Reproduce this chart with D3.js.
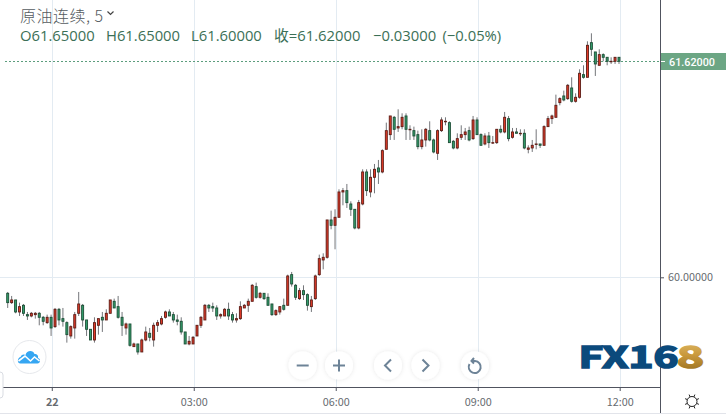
<!DOCTYPE html>
<html><head><meta charset="utf-8">
<script src="https://cdn.jsdelivr.net/npm/d3@7/dist/d3.min.js"></script>
<style>
html,body{margin:0;padding:0;background:#fff;overflow:hidden}
svg{display:block}
text{font-family:"Noto Sans CJK SC","Open Sans",sans-serif}
</style></head><body>
<svg id="c" width="726" height="415"></svg>
<script>
const high=[59.89,59.86,59.83,59.81,59.80,59.74,59.74,59.74,59.74,59.71,59.72,59.72,59.77,59.77,59.77,59.67,59.64,59.74,59.89,59.80,59.68,59.61,59.70,59.69,59.74,59.76,59.83,59.84,59.86,59.74,59.66,59.65,59.51,59.50,59.54,59.63,59.62,59.66,59.68,59.71,59.75,59.76,59.74,59.72,59.70,59.59,59.56,59.56,59.64,59.71,59.80,59.80,59.81,59.79,59.73,59.77,59.81,59.74,59.73,59.82,
59.80,59.84,59.95,59.96,59.89,59.88,59.88,59.80,59.76,59.78,59.84,60.02,60.04,59.95,59.92,59.94,59.88,59.86,60.02,60.17,60.18,60.43,60.50,60.51,60.66,60.67,60.70,60.57,60.51,60.58,
60.81,60.81,60.81,60.85,60.88,60.96,61.16,61.21,61.21,61.26,61.23,61.23,61.14,61.13,61.10,61.11,61.12,61.17,61.04,61.11,61.20,61.20,61.17,61.03,61.08,61.14,61.12,61.13,61.21,61.20,61.08,61.08,61.09,61.06,61.11,61.14,61.24,61.21,61.12,61.12,61.11,61.11,60.99,61.03,61.11,61.00,
61.14,61.21,61.22,61.37,61.35,61.40,61.45,61.50,61.38,61.56,61.59,61.77,61.83,61.69,61.71,61.68,61.65,61.65,61.65,61.65];
const low=[59.77,59.80,59.73,59.71,59.71,59.68,59.70,59.69,59.64,59.64,59.65,59.56,59.62,59.64,59.63,59.51,59.54,59.54,59.71,59.63,59.56,59.53,59.51,59.57,59.59,59.68,59.73,59.77,59.69,59.56,59.57,59.48,59.48,59.42,59.44,59.52,59.52,59.48,59.59,59.64,59.69,59.71,59.66,59.64,59.57,59.50,59.49,59.50,59.56,59.62,59.68,59.74,59.74,59.68,59.69,59.71,59.68,59.66,59.66,59.68,
59.77,59.74,59.82,59.84,59.84,59.83,59.79,59.71,59.71,59.72,59.75,59.79,59.93,59.83,59.83,59.83,59.75,59.74,59.83,60.01,60.06,60.14,60.36,60.21,60.45,60.54,60.52,60.46,60.36,60.36,
60.54,60.61,60.60,60.63,60.70,60.78,60.96,61.03,61.03,61.09,61.11,61.03,61.03,61.03,60.96,60.96,60.98,61.02,60.93,60.88,61.09,61.14,61.01,60.96,60.96,61.03,61.03,61.02,61.03,61.07,60.99,60.99,60.97,61.00,61.00,61.08,61.08,61.02,61.04,61.08,61.06,60.96,60.93,60.94,60.96,60.97,
60.99,61.13,61.15,61.20,61.29,61.32,61.33,61.31,61.31,61.34,61.49,61.50,61.66,61.51,61.59,61.62,61.59,61.60,61.60,61.60];
const open=[59.88,59.81,59.83,59.74,59.79,59.72,59.71,59.72,59.73,59.70,59.66,59.70,59.63,59.76,59.69,59.66,59.56,59.62,59.73,59.79,59.68,59.61,59.53,59.64,59.70,59.68,59.73,59.82,59.78,59.70,59.62,59.65,59.48,59.50,59.44,59.53,59.58,59.53,59.64,59.65,59.70,59.74,59.72,59.68,59.67,59.59,59.50,59.50,59.56,59.64,59.68,59.79,59.78,59.77,59.71,59.71,59.76,59.72,59.68,59.69,
59.77,59.79,59.82,59.93,59.85,59.88,59.85,59.80,59.72,59.74,59.79,59.79,60.02,59.94,59.84,59.90,59.87,59.78,59.84,60.02,60.13,60.15,60.43,60.39,60.45,60.64,60.65,60.55,60.51,60.37,
60.55,60.79,60.64,60.75,60.82,60.79,60.96,61.07,61.20,61.12,61.13,61.21,61.11,61.10,61.07,60.98,61.03,61.10,61.03,60.93,61.10,61.17,61.16,61.02,60.97,61.05,61.07,61.10,61.04,61.18,61.07,61.00,61.06,61.01,61.01,61.11,61.09,61.19,61.05,61.09,61.08,61.08,60.96,60.97,61.00,61.00,
60.99,61.13,61.19,61.20,61.31,61.36,61.34,61.42,61.32,61.35,61.52,61.50,61.76,61.69,61.59,61.67,61.65,61.62,61.62,61.65];
const close=[59.81,59.83,59.74,59.78,59.73,59.71,59.73,59.73,59.70,59.67,59.70,59.62,59.76,59.68,59.67,59.57,59.63,59.72,59.80,59.68,59.61,59.53,59.66,59.69,59.68,59.73,59.83,59.77,59.70,59.64,59.65,59.49,59.50,59.44,59.53,59.59,59.55,59.64,59.66,59.69,59.74,59.71,59.68,59.67,59.59,59.50,59.52,59.55,59.64,59.70,59.79,59.77,59.77,59.71,59.72,59.76,59.71,59.68,59.69,59.78,
59.79,59.82,59.94,59.85,59.88,59.84,59.79,59.72,59.75,59.78,59.76,60.01,59.95,59.85,59.90,59.87,59.79,59.83,60.01,60.14,60.15,60.43,60.39,60.45,60.64,60.65,60.56,60.51,60.37,60.56,
60.79,60.65,60.75,60.81,60.79,60.95,61.10,61.21,61.11,61.13,61.20,61.11,61.11,61.06,60.98,61.03,61.11,61.03,60.94,61.10,61.18,61.17,61.01,60.97,61.04,61.07,61.09,61.03,61.18,61.07,60.99,61.06,61.01,61.01,61.11,61.09,61.20,61.04,61.09,61.08,61.08,60.97,60.97,60.99,61.00,60.99,
61.13,61.19,61.21,61.29,61.34,61.33,61.44,61.32,61.35,61.53,61.50,61.74,61.71,61.60,61.67,61.65,61.62,61.62,61.65,61.62];

const timeTicks=[11,47,83,119,155];
const timeLabels=["22","03:00","06:00","09:00","12:00"];
const priceTicks=[60];
const lastPrice=61.62;
const headerTitle="原油连续, 5";
const headerItems=[["O61.65000",20],["H61.65000",106],["L61.60000",191],["收=61.62000",274],["−0.03000",373],["(−0.05%)",442.5]];

const svg=d3.select("#c");
const W=726,H=415,axisX=660,axisY=387;
const x=d3.scaleLinear().domain([0,155]).range([8,619.3]);
const y=d3.scaleLinear().domain([60,61.62]).range([277.3,61.3]);
const GRID="#e3ebf2",AXIS="#50535f",LABEL="#666b70";

// grid
const gx=svg.append("g");
gx.selectAll("line").data(timeTicks).join("line")
 .attr("x1",d=>Math.round(x(d)+.4)+.5).attr("x2",d=>Math.round(x(d)+.4)+.5)
 .attr("y1",0).attr("y2",axisY).attr("stroke",GRID);
const gy=svg.append("g");
gy.selectAll("line").data(priceTicks).join("line")
 .attr("x1",0).attr("x2",axisX).attr("y1",d=>Math.round(y(d))+.5).attr("y2",d=>Math.round(y(d))+.5).attr("stroke",GRID);

// last price line
svg.append("line").attr("x1",5).attr("x2",axisX).attr("y1",Math.round(y(lastPrice))+.5).attr("y2",Math.round(y(lastPrice))+.5)
 .attr("stroke","#5c9d7d").attr("stroke-width",1).attr("stroke-dasharray","2 2");

// candles
const idx=d3.range(close.length);
const up=i=>close[i]>=open[i];
const cx=i=>x(i)-.3;
const g=svg.append("g");
g.selectAll("line").data(idx).join("line")
 .attr("x1",i=>cx(i)).attr("x2",i=>cx(i))
 .attr("y1",i=>y(high[i])).attr("y2",i=>y(low[i]))
 .attr("stroke","#74767a").attr("stroke-width",1);
g.selectAll("rect").data(idx).join("rect")
 .attr("x",i=>cx(i)-1).attr("width",2)
 .attr("y",i=>y(Math.max(open[i],close[i])))
 .attr("height",i=>Math.max(.5,y(Math.min(open[i],close[i]))-y(Math.max(open[i],close[i]))))
 .attr("fill",i=>up(i)?"#e23a28":"#33a06c")
 .attr("stroke",i=>up(i)?"#5c1d16":"#1d4d36").attr("stroke-width",.9);

// axes
const xAxis=d3.axisBottom(x).tickValues(timeTicks).tickFormat((d,i)=>timeLabels[i]).tickSize(4).tickPadding(7);
const ax=svg.append("g").attr("transform",`translate(0.4,${axisY})`).call(xAxis);
ax.select(".domain").remove();
ax.selectAll("line").attr("stroke",AXIS);
ax.selectAll("text").attr("fill",LABEL).attr("font-size",10.8).attr("font-family","Roboto,'Open Sans',sans-serif")
 .attr("font-weight",(d,i)=>i==0?700:400);
const yAxis=d3.axisRight(y).tickValues(priceTicks).tickFormat(d3.format(".5f")).tickSize(4).tickPadding(4);
const ay=svg.append("g").attr("transform",`translate(${axisX},0)`).call(yAxis);
ay.select(".domain").remove();
ay.selectAll("line").attr("stroke",AXIS);
ay.selectAll("text").attr("fill",LABEL).attr("font-size",10.8).attr("font-family","Roboto,'Open Sans',sans-serif");

svg.append("line").attr("x1",0).attr("x2",axisX).attr("y1",axisY+.5).attr("y2",axisY+.5).attr("stroke",AXIS);
svg.append("line").attr("x1",axisX+.5).attr("x2",axisX+.5).attr("y1",0).attr("y2",413).attr("stroke",AXIS);
svg.append("line").attr("x1",0).attr("x2",W).attr("y1",413.5).attr("y2",413.5).attr("stroke","#e2e4ea");

// last price label
svg.append("rect").attr("x",axisX+1).attr("y",53).attr("width",W-axisX-1).attr("height",17).attr("fill","#6ca684");
svg.append("line").attr("x1",axisX+1).attr("x2",axisX+5).attr("y1",61.5).attr("y2",61.5).attr("stroke","#fff");
svg.append("text").attr("x",669).attr("y",65.5).attr("fill","#fff").attr("font-size",10.8).attr("font-weight",500)
 .style("font-family","Roboto,sans-serif").text(d3.format(".5f")(lastPrice));

// header
svg.append("text").attr("x",20).attr("y",21.5).attr("fill","#555b60").attr("font-size",16).attr("font-weight",300).text(headerTitle)
 .attr("textLength",83).attr("lengthAdjust","spacing");
svg.append("path").attr("d","M107.5 11.5l3 3 3-3").attr("fill","none").attr("stroke","#444").attr("stroke-width",1.2);
svg.append("g").selectAll("text").data(headerItems).join("text")
 .attr("x",d=>d[1]).attr("y",40.5).attr("fill","#3b6f56").attr("font-size",14.8).text(d=>d[0])
 .style("font-family","'Open Sans','Noto Sans CJK SC',sans-serif");

// round buttons
const defs=svg.append("defs");
const f=defs.append("filter").attr("id","sh").attr("x","-40%").attr("y","-40%").attr("width","180%").attr("height","180%");
f.append("feDropShadow").attr("dx",0).attr("dy",0).attr("stdDeviation",2).attr("flood-color","#000").attr("flood-opacity",.1);
const ICON="#6d8397";
const btn=[[302.7,"M-6 0H6"],[339,"M-6 0H6M0 -6V6"],[388,"M3 -6L-3 0L3 6"],[425.5,"M-3 -6L3 0L-3 6"],[475,"M-5.5 -1.5A6 6 0 1 0 0 -4.5H-3M-1 -7.5L-3.5 -4.5L-1 -2"]];
const bg=svg.append("g").selectAll("g").data(btn).join("g").attr("transform",d=>`translate(${d[0]},365.5)`);
bg.append("circle").attr("r",14).attr("fill","#fff").attr("filter","url(#sh)");
bg.append("path").attr("d",d=>d[1]).attr("fill","none").attr("stroke",ICON).attr("stroke-width",2);

// cloud button
const cl=svg.append("g").attr("transform","translate(29.5,357)");
cl.append("circle").attr("r",16.5).attr("fill","#fff").attr("stroke","#e6e8ec").attr("stroke-width",1);
cl.append("path").attr("d","M-9 6.5C-12.5 6.5 -12.5 1 -9 0C-8 -3 -5 -3 -4 -2C-3 -7 4 -7 5 -3C8 -3 9 -1 8.5 1C11.5 1.5 11 6.5 8 6.5Z").attr("fill","#35a6f2");
cl.append("path").attr("d","M-11 4L-4.5 -1L1 4L5 0L10 4").attr("fill","none").attr("stroke","#fff").attr("stroke-width",1.6);

// left handle
svg.append("rect").attr("x",-6).attr("y",372).attr("width",9).attr("height",26).attr("rx",3).attr("fill","#fff").attr("stroke","#d9dce2");

// settings icon
const gear=svg.append("g").attr("transform","translate(692,401.5)").attr("fill","none").attr("stroke","#222").attr("stroke-width",1);
gear.append("circle").attr("r",5);
gear.selectAll("line").data(d3.range(8)).join("line")
 .attr("x1",d=>5*Math.cos(d*Math.PI/4+.39)).attr("y1",d=>5*Math.sin(d*Math.PI/4+.39))
 .attr("x2",d=>7.5*Math.cos(d*Math.PI/4+.39)).attr("y2",d=>7.5*Math.sin(d*Math.PI/4+.39));

// watermark
const lg=defs.append("linearGradient").attr("id","gold").attr("x1",0).attr("x2",0).attr("y1",0).attr("y2",1);
[["0","#e8c878"],["0.5","#c9983c"],["1","#8c6518"]].forEach(s=>lg.append("stop").attr("offset",s[0]).attr("stop-color",s[1]));
const wm=svg.append("g").style("font-family","'DejaVu Sans',sans-serif").attr("font-weight",700).attr("font-size",30).attr("stroke-width",1.6);
wm.append("text").attr("x",578.5).attr("y",368).attr("fill","#0b4a7c").attr("stroke","#0b4a7c").attr("textLength",100).attr("lengthAdjust","spacingAndGlyphs").text("FX16");
wm.append("text").attr("x",677).attr("y",368).attr("fill","url(#gold)").attr("stroke","url(#gold)").attr("textLength",27).attr("lengthAdjust","spacingAndGlyphs").text("8");
</script>
</body></html>
